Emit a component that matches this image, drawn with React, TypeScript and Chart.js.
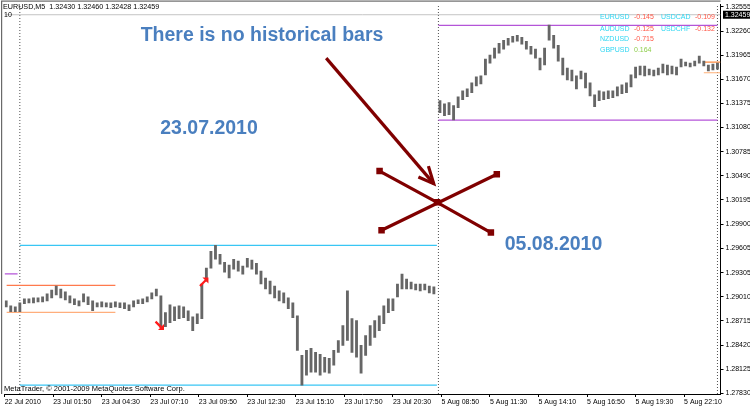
import React, { useEffect, useRef } from 'react';
import { Chart, registerables } from 'chart.js';

Chart.register(...registerables);

// EURUSD M5, 23 Jul 2010 – bars grouped by 3 (high / low of each group)
const julHigh = [
  1.28961, 1.28900, 1.28888, 1.28937, 1.28985, 1.28985, 1.28997, 1.28997, 1.29009, 1.29046,
  1.29094, 1.29143, 1.29106, 1.29070, 1.29022, 1.28985, 1.28961, 1.29046, 1.29009, 1.28961,
  1.28937, 1.28949, 1.28937, 1.28937, 1.28949, 1.28937, 1.28937, 1.28913, 1.28961, 1.28973,
  1.28985, 1.29009, 1.29058, 1.29106, 1.29022, 1.28816, 1.28913, 1.28888, 1.28900, 1.28888,
  1.28840, 1.28767, 1.28803, 1.29167, 1.29361, 1.29567, 1.29639, 1.29530, 1.29433, 1.29397,
  1.29470, 1.29446, 1.29385, 1.29482, 1.29458, 1.29421, 1.29325, 1.29240, 1.29203, 1.29143,
  1.29082, 1.29058, 1.28997, 1.28937, 1.28779, 1.28295, 1.28355, 1.28380, 1.28331, 1.28307,
  1.28271, 1.28258, 1.28355, 1.28476, 1.28658, 1.29082, 1.28743, 1.28719, 1.28416, 1.28537,
  1.28658, 1.28719, 1.28779, 1.28900, 1.28985, 1.28985, 1.29167, 1.29288, 1.29228, 1.29191,
  1.29167, 1.29167, 1.29167, 1.29143, 1.29131,
];
const julLow = [
  1.28888, 1.28828, 1.28828, 1.28828, 1.28925, 1.28937, 1.28937, 1.28949, 1.28949, 1.28961,
  1.28997, 1.29034, 1.28997, 1.28973, 1.28937, 1.28913, 1.28900, 1.28949, 1.28913, 1.28840,
  1.28888, 1.28888, 1.28888, 1.28876, 1.28888, 1.28876, 1.28864, 1.28840, 1.28888, 1.28925,
  1.28925, 1.28949, 1.28985, 1.29022, 1.28634, 1.28646, 1.28694, 1.28719, 1.28743, 1.28755,
  1.28719, 1.28597, 1.28682, 1.28743, 1.29203, 1.29361, 1.29470, 1.29409, 1.29312, 1.29240,
  1.29349, 1.29325, 1.29288, 1.29373, 1.29349, 1.29288, 1.29167, 1.29106, 1.29046, 1.28997,
  1.28961, 1.28937, 1.28864, 1.28755, 1.28355, 1.27931, 1.28052, 1.28089, 1.28089, 1.28052,
  1.28089, 1.28077, 1.28174, 1.28331, 1.28416, 1.28476, 1.28331, 1.28271, 1.28077, 1.28295,
  1.28416, 1.28513, 1.28597, 1.28682, 1.28816, 1.28840, 1.29009, 1.29106, 1.29106, 1.29106,
  1.29094, 1.29082, 1.29094, 1.29058, 1.29046,
];

// EURUSD M5, 5 Aug 2010
const augHigh = [
  1.31408, 1.31371, 1.31384, 1.31347, 1.31456, 1.31529, 1.31553, 1.31626, 1.31699, 1.31711,
  1.31917, 1.31965, 1.32050, 1.32110, 1.32147, 1.32171, 1.32195, 1.32207, 1.32183, 1.32135,
  1.32074, 1.32038, 1.31929, 1.32050, 1.32332, 1.32207, 1.32086, 1.31929, 1.31808, 1.31783,
  1.31711, 1.31771, 1.31747, 1.31626, 1.31480, 1.31529, 1.31517, 1.31529, 1.31529, 1.31577,
  1.31602, 1.31626, 1.31723, 1.31820, 1.31832, 1.31832, 1.31795, 1.31783, 1.31808, 1.31856,
  1.31844, 1.31832, 1.31820, 1.31917, 1.31880, 1.31868, 1.31892, 1.31953, 1.31892, 1.31844,
  1.31856, 1.31868,
];
const augLow = [
  1.31262, 1.31226, 1.31238, 1.31174, 1.31323, 1.31420, 1.31456, 1.31505, 1.31590, 1.31614,
  1.31723, 1.31868, 1.31929, 1.31989, 1.32038, 1.32086, 1.32123, 1.32135, 1.32098, 1.32038,
  1.31977, 1.31929, 1.31783, 1.31844, 1.32147, 1.32050, 1.31892, 1.31723, 1.31662, 1.31650,
  1.31553, 1.31674, 1.31565, 1.31468, 1.31335, 1.31408, 1.31420, 1.31432, 1.31444, 1.31468,
  1.31493, 1.31505, 1.31577, 1.31686, 1.31723, 1.31711, 1.31723, 1.31711, 1.31723, 1.31747,
  1.31723, 1.31735, 1.31723, 1.31820, 1.31832, 1.31820, 1.31832, 1.31868, 1.31832, 1.31771,
  1.31783, 1.31795,
];

// bar index: 0 = 23 Jul 00:00, 276 = 5 Aug 08:40 (first bar after the gap)
const julFirstBar = -9;
const augFirstBar = 277;
const barsPerGroup = 3;
const xMinBar = -10.05;
const xMaxBar = 462.0;

const xTickBars = [-10, 22, 54, 86, 118, 150, 182, 214, 246, 278, 310, 342, 374, 406, 438];
const xTickLabels = [
  '22 Jul 2010', '23 Jul 01:50', '23 Jul 04:30', '23 Jul 07:10', '23 Jul 09:50',
  '23 Jul 12:30', '23 Jul 15:10', '23 Jul 17:50', '23 Jul 20:30', '5 Aug 08:50',
  '5 Aug 11:30', '5 Aug 14:10', '5 Aug 16:50', '5 Aug 19:30', '5 Aug 22:10',
];
const yTickPrices = [
  1.32555, 1.32260, 1.31965, 1.31670, 1.31375, 1.31080, 1.30785, 1.30490, 1.30195,
  1.29900, 1.29605, 1.29305, 1.29010, 1.28715, 1.28420, 1.28125, 1.27830,
];
const yMinPrice = 1.27822;
const yMaxPrice = 1.32583;

const daySeparatorBars = [0, 276, 460];
const ohlc = [1.32430, 1.32460, 1.32428, 1.32459];
const bidPrice = 1.32459;

// horizontal level lines
const levelPrices = [1.2929, 1.2915, 1.2882, 1.2964, 1.2793, 1.3233, 1.3117, 1.3188, 1.3175];
const levelFromBar = [-10.05, -8.7, -8.7, 0, 0, 276, 276, 451, 451];
const levelToBar = [-1.5, 63, 63, 275, 275, 460, 460, 462, 462];

// drawn objects (arrow + cross)
const arrowBars = [202.0, 272.9];
const arrowPrices = [1.31929, 1.30394];
const arrowHeadBars = [262.8, 272.9, 269.4];
const arrowHeadPrices = [1.30475, 1.30394, 1.30608];
const crossABars = [237.2, 275.1, 310.6];
const crossAPrices = [1.30548, 1.30166, 1.29796];
const crossBBars = [238.5, 314.5];
const crossBPrices = [1.29824, 1.30508];

// trade arrows
const tradeBars = [92.1, 121.4];
const tradePrices = [1.28658, 1.29191];
const tradeDirs = ['down', 'up'];

// correlation panel
const corrSymbols = ['EURUSD', 'USDCAD', 'AUDUSD', 'USDCHF', 'NZDUSD', 'GBPUSD'];
const corrValues = [-0.145, -0.109, -0.125, -0.132, -0.715, 0.164];

const FONT = '"Liberation Sans", Arial, sans-serif';

const overlayPlugin = {
  id: 'mtOverlay',
  afterDraw(chart: any) {
    const { ctx, chartArea: a, scales } = chart;
    const xs = scales.x;
    const ys = scales.y;
    ctx.save();
    // frame (left / top)
    ctx.fillStyle = '#6a6a6a';
    ctx.fillRect(1, 1, 1.2, a.bottom - 1);
    ctx.fillRect(1, 0.5, a.right - 1, 1.2);

    // trade arrows
    ctx.fillStyle = '#ff1a1a';
    ctx.strokeStyle = '#ff1a1a';
    ctx.lineWidth = 2.2;
    tradeBars.forEach((b, i) => {
      const px = xs.getPixelForValue(b);
      const py = ys.getPixelForValue(tradePrices[i]);
      const s = tradeDirs[i] === 'down' ? 1 : -1;
      ctx.beginPath();
      ctx.moveTo(px - 4, py - 4 * s);
      ctx.lineTo(px + 1.5, py + 1.5 * s);
      ctx.stroke();
      ctx.beginPath();
      ctx.moveTo(px + 4.5, py + 4.5 * s);
      ctx.lineTo(px - 1.5, py + 4.5 * s);
      ctx.lineTo(px + 4.5, py - 1.5 * s);
      ctx.closePath();
      ctx.fill();
    });

    // bid price label
    const by = ys.getPixelForValue(bidPrice);
    ctx.fillStyle = '#000';
    ctx.fillRect(a.right + 2.5, by - 4, 750 - a.right - 2.5, 8);
    ctx.fillStyle = '#fff';
    ctx.font = `7px ${FONT}`;
    ctx.textBaseline = 'middle';
    ctx.textAlign = 'left';
    ctx.fillText(bidPrice.toFixed(5), a.right + 4.5, by + 0.5);

    // title and misc texts
    ctx.fillStyle = '#000';
    ctx.font = `7.2px ${FONT}`;
    ctx.fillText(`EURUSD,M5  ${ohlc.map((v) => v.toFixed(5)).join(' ')}`, 3, 7.5);
    ctx.font = `7px ${FONT}`;
    ctx.fillText('10', 4, 15.5);
    ctx.font = `7.5px ${FONT}`;
    ctx.fillText('MetaTrader, \u00a9 2001-2009 MetaQuotes Software Corp.', 4, 388.5);

    // correlation panel
    const rowOf = [0, 0, 1, 1, 2, 3];
    const colOf = [0, 1, 0, 1, 0, 0];
    const rowY = [17, 28.7, 39.3, 50];
    const colX = [600, 661];
    ctx.font = `7px ${FONT}`;
    corrSymbols.forEach((s, i) => {
      const x0 = colX[colOf[i]];
      const y0 = rowY[rowOf[i]];
      ctx.fillStyle = '#2fd6f2';
      ctx.fillText(s, x0, y0);
      ctx.fillStyle = corrValues[i] < 0 ? '#ff5646' : '#8fce4c';
      ctx.fillText(corrValues[i].toFixed(3), x0 + 34, y0);
    });

    // big annotation texts
    ctx.fillStyle = '#4a7fbf';
    ctx.font = `bold 19.5px ${FONT}`;
    ctx.textAlign = 'center';
    ctx.fillText('There is no historical bars', 262, 35.5);
    ctx.fillText('23.07.2010', 209, 128.5);
    ctx.fillText('05.08.2010', 553.5, 244.5);
    ctx.restore();
  },
};

export default function App() {
  const ref = useRef<HTMLCanvasElement | null>(null);

  useEffect(() => {
    if (!ref.current) return;
    const bars = [
      ...julHigh.map((h, i) => ({ x: julFirstBar + i * barsPerGroup, y: [julLow[i], h] })),
      ...augHigh.map((h, i) => ({ x: augFirstBar + i * barsPerGroup, y: [augLow[i], h] })),
    ];
    const levelColors = ['#b455d8', '#ff7a4d', '#ffae7c', '#38c6f4', '#38c6f4', '#b455d8', '#b455d8', '#ff8a3d', '#ffb077'];
    const lineDs = (pts: any[], color: string, width: number, order: number, extra: any = {}) => ({
      type: 'line',
      data: pts,
      borderColor: color,
      borderWidth: width,
      pointRadius: 0,
      fill: false,
      tension: 0,
      order,
      ...extra,
    });
    const datasets: any[] = [];
    // annotations on top
    datasets.push(lineDs(arrowBars.map((b, i) => ({ x: b, y: arrowPrices[i] })), '#800000', 3.2, 0));
    datasets.push(lineDs(arrowHeadBars.map((b, i) => ({ x: b, y: arrowHeadPrices[i] })), '#800000', 3.2, 0));
    datasets.push(lineDs(crossABars.map((b, i) => ({ x: b, y: crossAPrices[i] })), '#800000', 3.2, 0, {
      pointRadius: 4.6, pointStyle: 'rect', pointBackgroundColor: '#800000', pointBorderWidth: 0,
    }));
    datasets.push(lineDs(crossBBars.map((b, i) => ({ x: b, y: crossBPrices[i] })), '#800000', 3.2, 0, {
      pointRadius: 4.6, pointStyle: 'rect', pointBackgroundColor: '#800000', pointBorderWidth: 0,
    }));
    datasets.push({
      type: 'bar',
      data: bars,
      backgroundColor: '#666666',
      borderWidth: 0,
      barThickness: 2.2,
      grouped: false,
      order: 2,
    });
    levelPrices.forEach((p, i) => {
      datasets.push(lineDs([{ x: levelFromBar[i], y: p }, { x: levelToBar[i], y: p }], levelColors[i], 1.2, 3));
    });
    datasets.push(lineDs([{ x: xMinBar, y: bidPrice }, { x: xMaxBar, y: bidPrice }], '#c4c4c4', 1, 4));
    daySeparatorBars.forEach((b) => {
      datasets.push(lineDs([{ x: b, y: yMinPrice }, { x: b, y: yMaxPrice }], '#505050', 1, 5, { borderDash: [1, 2] }));
    });

    const tickFont = { family: FONT, size: 7 };
    const chart = new Chart(ref.current, {
      type: 'bar',
      data: { datasets },
      plugins: [overlayPlugin],
      options: {
        animation: false,
        responsive: false,
        maintainAspectRatio: false,
        devicePixelRatio: 1,
        events: [],
        layout: { padding: { left: 2, top: 1, right: 0, bottom: 0 } },
        plugins: { legend: { display: false }, tooltip: { enabled: false } },
        scales: {
          x: {
            type: 'linear',
            min: xMinBar,
            max: xMaxBar,
            offset: false,
            grid: { display: true, drawOnChartArea: false, drawTicks: true, tickLength: 3, color: '#000', offset: false },
            border: { display: true, color: '#000', width: 1 },
            ticks: {
              autoSkip: false,
              maxRotation: 0,
              minRotation: 0,
              align: 'start',
              padding: 1,
              color: '#000',
              font: tickFont,
              callback: (v: any) => xTickLabels[xTickBars.indexOf(Number(v))] ?? '',
            },
            afterBuildTicks: (s: any) => {
              s.ticks = xTickBars.map((v) => ({ value: v }));
            },
            afterFit: (s: any) => {
              s.height = 14;
              s.paddingLeft = 0;
              s.paddingRight = 0;
            },
          },
          y: {
            type: 'linear',
            position: 'right',
            min: yMinPrice,
            max: yMaxPrice,
            grid: { display: true, drawOnChartArea: false, drawTicks: true, tickLength: 3, color: '#000' },
            border: { display: true, color: '#000', width: 1 },
            ticks: {
              padding: 2,
              color: '#000',
              font: tickFont,
              callback: (v: any) => Number(v).toFixed(5),
            },
            afterBuildTicks: (s: any) => {
              s.ticks = yTickPrices.map((v) => ({ value: v }));
            },
            afterFit: (s: any) => {
              s.width = 29.5;
              s.paddingTop = 0;
              s.paddingBottom = 0;
            },
          },
        },
      } as any,
    } as any);
    return () => chart.destroy();
  }, []);

  return (
    <div style={{ position: 'fixed', left: 0, top: 0, width: 750, height: 408, background: '#fff' }}>
      <canvas ref={ref} width={750} height={408} style={{ display: 'block', width: 750, height: 408 }} />
    </div>
  );
}
